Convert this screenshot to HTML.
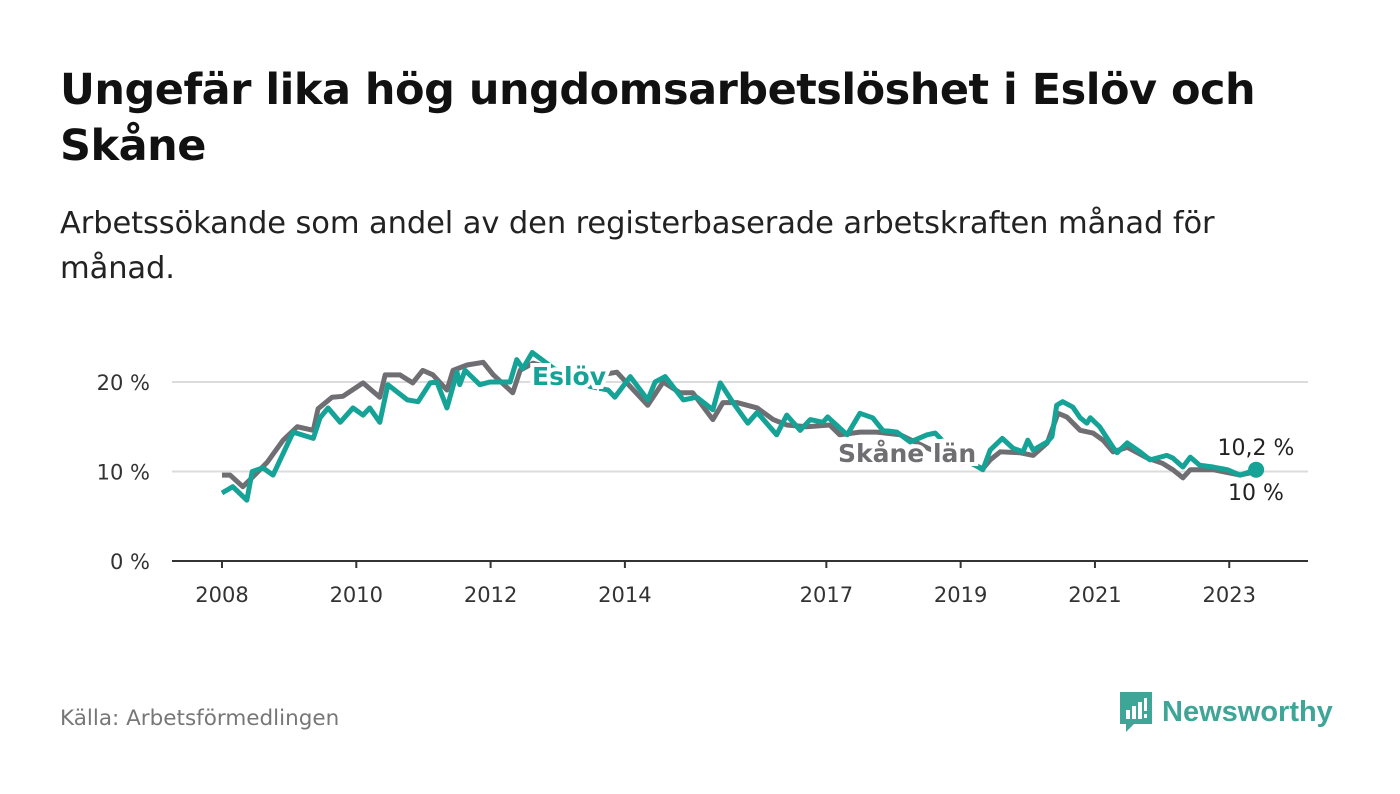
<!DOCTYPE html>
<html><head><meta charset="utf-8"><style>
body{margin:0;width:1400px;height:794px;background:#fff;font-family:"Liberation Sans","DejaVu Sans",sans-serif;overflow:hidden;position:relative}
.t{position:absolute;left:60px;top:62px;font-size:43px;font-weight:bold;color:#111;line-height:56px;width:1260px;font-family:"DejaVu Sans",sans-serif;letter-spacing:-0.5px}
.s{position:absolute;left:60px;top:201px;font-size:30.5px;color:#222;line-height:45px;width:1200px;font-family:"DejaVu Sans",sans-serif;letter-spacing:-0.1px}
.src{position:absolute;left:60px;top:706px;font-size:21.5px;color:#777;font-family:"DejaVu Sans",sans-serif}
.logo{position:absolute;left:1118px;top:690px;display:flex;align-items:center;gap:8px;color:#3ea597;font-size:29px;font-weight:bold}
</style></head><body>
<div class="t">Ungefär lika hög ungdomsarbetslöshet i Eslöv och Skåne</div>
<div class="s">Arbetssökande som andel av den registerbaserade arbetskraften månad för månad.</div>
<svg id="chart" width="1400" height="794" style="position:absolute;left:0;top:0"></svg>
<div class="src">Källa: Arbetsförmedlingen</div>
<div class="logo"><svg width="36" height="44" viewBox="0 0 36 44"><path d="M2 2h32v32H16l-8 8v-8H2z" fill="#3ea597"/><rect x="8" y="20" width="4" height="9" fill="#fff"/><rect x="14" y="16" width="4" height="13" fill="#fff"/><rect x="20" y="12" width="4" height="17" fill="#fff"/><rect x="26" y="8" width="3" height="13" fill="#fff"/><rect x="26" y="24" width="3" height="4" fill="#fff"/></svg><span>Newsworthy</span></div>
<script>
const skaneYears=[2008.00,2008.12,2008.31,2008.46,2008.67,2008.91,2009.12,2009.36,2009.43,2009.64,2009.80,2010.10,2010.35,2010.43,2010.65,2010.84,2010.99,2011.14,2011.35,2011.44,2011.65,2011.89,2012.04,2012.33,2012.44,2012.63,2013.41,2013.88,2014.34,2014.57,2014.82,2015.01,2015.31,2015.46,2015.67,2015.97,2016.21,2016.41,2016.71,2017.05,2017.20,2017.50,2017.75,2018.10,2018.54,2018.99,2019.33,2019.44,2019.59,2019.88,2020.08,2020.29,2020.45,2020.58,2020.78,2020.97,2021.12,2021.27,2021.48,2021.78,2022.01,2022.16,2022.31,2022.42,2022.76,2023.16,2023.40];
const skaneValues=[9.6,9.6,8.3,9.4,11,13.5,15,14.6,17,18.3,18.4,19.9,18.3,20.8,20.8,19.9,21.3,20.8,19.1,21.3,21.9,22.2,20.8,18.8,21.3,22.1,20.5,21.1,17.4,20,18.8,18.8,15.8,17.7,17.7,17.1,15.8,15.2,15,15.2,14.1,14.4,14.4,14.1,12.5,11.5,10.3,11.3,12.2,12.1,11.8,13.2,16.5,16.1,14.6,14.3,13.5,12.2,12.7,11.5,10.9,10.2,9.3,10.2,10.2,9.6,10.0];
const eslovYears=[2008.00,2008.16,2008.37,2008.45,2008.61,2008.76,2009.06,2009.36,2009.46,2009.58,2009.76,2009.95,2010.10,2010.20,2010.35,2010.47,2010.76,2010.92,2011.10,2011.20,2011.35,2011.50,2011.54,2011.62,2011.84,2011.99,2012.29,2012.39,2012.48,2012.62,2013.03,2013.48,2013.75,2013.85,2014.08,2014.34,2014.45,2014.60,2014.87,2015.07,2015.31,2015.42,2015.61,2015.83,2015.97,2016.26,2016.41,2016.61,2016.76,2016.95,2017.02,2017.31,2017.50,2017.69,2017.84,2018.05,2018.25,2018.50,2018.62,2018.92,2019.33,2019.44,2019.62,2019.78,2019.93,2020.00,2020.08,2020.29,2020.36,2020.43,2020.52,2020.67,2020.78,2020.88,2020.93,2021.07,2021.27,2021.33,2021.48,2021.67,2021.82,2022.07,2022.16,2022.31,2022.42,2022.56,2022.76,2022.97,2023.16,2023.40];
const eslovValues=[7.6,8.3,6.8,10,10.4,9.6,14.4,13.7,16,17.1,15.5,17.1,16.3,17.1,15.5,19.7,18,17.8,19.9,20,17.1,21.1,19.7,21.3,19.7,20,20,22.5,21.5,23.3,21,19.5,19.1,18.3,20.6,18,20,20.6,18,18.3,16.9,19.9,17.7,15.4,16.6,14.1,16.3,14.6,15.8,15.5,16.1,14.1,16.5,16,14.6,14.4,13.3,14.1,14.3,12,10.2,12.4,13.7,12.6,12.2,13.5,12.4,13.3,13.9,17.4,17.8,17.2,16,15.4,16,15,12.7,12.1,13.2,12.2,11.3,11.8,11.5,10.5,11.6,10.7,10.5,10.2,9.6,10.2];
const yTicks=[0,10,20];
const yTickLabels=["0 %","10 %","20 %"];
const xTicks=[2008,2010,2012,2014,2017,2019,2021,2023];
const xTickLabels=["2008","2010","2012","2014","2017","2019","2021","2023"];
const NS="http://www.w3.org/2000/svg";
const svg=document.getElementById('chart');
const X=y=>222+(y-2008)*67.15;
const Y=v=>561-v*8.95;
function mk(t,a,p){const e=document.createElementNS(NS,t);for(const k in a)e.setAttribute(k,a[k]);(p||svg).appendChild(e);return e;}
yTicks.forEach((v,i)=>{
 if(v>0){const g=mk('line',{x1:172,x2:1308,y1:Y(v),y2:Y(v),stroke:'#dcdcdc','stroke-width':2});
 
 }
 const t=mk('text',{x:150,y:Y(v)+8,'text-anchor':'end','font-size':21,fill:'#333','font-family':'DejaVu Sans, sans-serif'});t.textContent=yTickLabels[i];
 
 
});
const base=mk('line',{x1:172,x2:1308,y1:561,y2:561,stroke:'#333','stroke-width':2});


xTicks.forEach((v,i)=>{
 mk('line',{x1:X(v),x2:X(v),y1:561,y2:568,stroke:'#333','stroke-width':2});
 const t=mk('text',{x:X(v),y:602,'text-anchor':'middle','font-size':21,fill:'#333','font-family':'DejaVu Sans, sans-serif'});t.textContent=xTickLabels[i];
 
 
});
function line(xs,vs,c,name){
 const p=mk('polyline',{points:xs.map((x,i)=>X(x)+','+Y(vs[i])).join(' '),fill:'none',stroke:c,'stroke-width':5,'stroke-linejoin':'round'});
 
 
}
line(skaneYears,skaneValues,'#6f6f73','skane-line');
line(eslovYears,eslovValues,'#14a396','eslov-line');
function lab(x,y,txt,c,name,anchor){
 const t=mk('text',{x:x,y:y,'font-size':25,'font-weight':'bold',fill:c,stroke:'#fff','stroke-width':8,'paint-order':'stroke','text-anchor':anchor||'start','font-family':'DejaVu Sans, sans-serif'});t.textContent=txt;
 
 
}
lab(532,385,'Eslöv','#14a396','eslov-label');
lab(838,462,'Skåne län','#6f6f73','skane-label');
const n=eslovYears.length-1;
const dot=mk('circle',{cx:X(eslovYears[n]),cy:Y(eslovValues[n]),r:8,fill:'#14a396'});


const v1=mk('text',{x:1256,y:455,'text-anchor':'middle','font-size':22,fill:'#222','font-family':'DejaVu Sans, sans-serif'});v1.textContent=String(eslovValues[n]).replace('.',',')+' %';


const v2=mk('text',{x:1256,y:500,'text-anchor':'middle','font-size':22,fill:'#222','font-family':'DejaVu Sans, sans-serif'});v2.textContent=String(skaneValues[skaneValues.length-1]).replace('.',',')+' %';


</script>
</body></html>
